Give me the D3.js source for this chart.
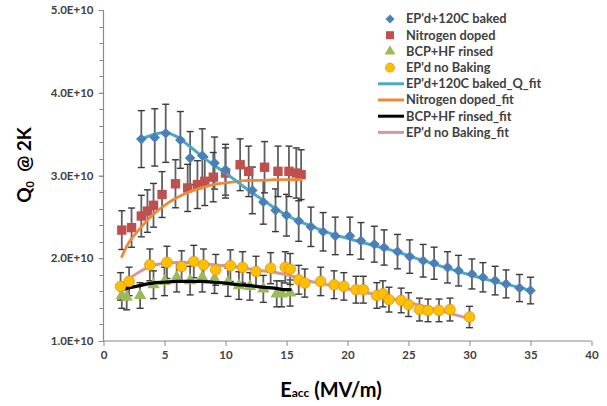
<!DOCTYPE html>
<html><head><meta charset="utf-8">
<script src="https://cdn.jsdelivr.net/npm/d3@7"></script>
<style>
html,body{margin:0;padding:0;background:#fff;}
svg{display:block;font-family:Lato,"Open Sans",sans-serif;}
</style></head>
<body>
<svg id="chart" width="607" height="406"></svg>
<script>
// ---- data (Q0 in units of 1E+10) ----
const xTicks = [0,5,10,15,20,25,30,35,40];
const yTicks = [1,2,3,4,5];
const errorPercent = 10;

const bakedX = [3.1,4.2,5.1,6.3,7.1,8.1,9.1,10.0,12.2,13.1,14.1,15.0,16.0,17.0,18.0,19.0,20.2,21.1,22.2,23.0,24.1,25.1,26.2,27.1,28.2,29.1,30.2,31.1,32.1,33.0,34.1,35.0];
const bakedQ = [3.44,3.46,3.51,3.43,3.21,3.24,3.15,3.07,2.82,2.68,2.58,2.52,2.45,2.38,2.32,2.27,2.27,2.21,2.17,2.13,2.08,2.02,1.97,1.94,1.89,1.85,1.81,1.77,1.73,1.69,1.64,1.61];

const nitroX = [1.5,2.3,3.1,3.6,4.1,4.8,5.9,6.9,7.7,8.3,9.0,10.0,11.2,11.9,13.2,14.3,15.2,15.8,16.2];
const nitroQ = [2.34,2.37,2.51,2.57,2.64,2.77,2.90,2.85,2.89,2.93,2.98,3.03,3.13,3.05,3.10,3.05,3.05,3.03,3.01];

const bcpX = [1.5,1.9,3.0,4.1,5.0,6.0,7.1,8.1,9.1,10.2,11.1,12.0,13.1,14.2,14.6,15.3];
const bcpQ = [1.55,1.53,1.55,1.68,1.72,1.77,1.73,1.77,1.75,1.71,1.67,1.66,1.63,1.57,1.57,1.58];

const noBakeX = [1.4,2.1,3.8,5.2,6.4,7.4,8.2,9.2,10.4,11.4,12.5,13.7,14.9,15.3,16.0,16.5,17.8,18.9,19.7,20.7,21.3,22.4,22.9,23.4,24.4,25.0,25.9,26.6,27.5,28.4,30.0];
const noBakeQ = [1.66,1.72,1.92,1.95,1.90,1.96,1.92,1.86,1.91,1.89,1.84,1.88,1.89,1.87,1.74,1.70,1.72,1.68,1.66,1.62,1.62,1.55,1.57,1.50,1.49,1.44,1.38,1.37,1.37,1.38,1.29];

const bakedFitX = [3.1,4,5,6,7,8,9,10,11,12,13,14,15,16,17,18,19,20,22,24,26,28,30,32,34,35];
const bakedFitQ = [3.44,3.49,3.52,3.47,3.36,3.24,3.13,3.03,2.92,2.81,2.71,2.61,2.52,2.45,2.39,2.33,2.28,2.24,2.16,2.08,1.98,1.89,1.80,1.72,1.65,1.61];

const nitroFitX = [1.5,2,3,4,5,6,7,8,9,10,11,12,13,14,15,16.2];
const nitroFitQ = [2.02,2.17,2.36,2.52,2.64,2.73,2.80,2.85,2.89,2.91,2.93,2.94,2.94,2.95,2.95,2.95];

const bcpFitX = [1.5,2,3,4,5,6,7,8,9,10,11,12,13,14,15,15.3];
const bcpFitQ = [1.62,1.64,1.67,1.70,1.71,1.72,1.72,1.72,1.71,1.70,1.68,1.67,1.65,1.64,1.62,1.62];

const noBakeFitX = [1.4,2,3,4,5,6,7,8,9,10,11,12,13,14,15,16,17,18,19,20,22,24,26,28,30];
const noBakeFitQ = [1.66,1.74,1.84,1.91,1.94,1.95,1.95,1.94,1.92,1.91,1.89,1.87,1.85,1.83,1.80,1.76,1.72,1.69,1.66,1.63,1.57,1.50,1.43,1.35,1.27];

const legendLabels = ["EP'd+120C baked","Nitrogen doped","BCP+HF rinsed","EP'd no Baking",
  "EP'd+120C baked_Q_fit","Nitrogen doped_fit","BCP+HF rinsed_fit","EP'd no Baking_fit"];

// ---- drawing ----
const svg = d3.select("#chart");
const x = d3.scaleLinear().domain([0,40]).range([103.5,591.5]);
const y = d3.scaleLinear().domain([1,5]).range([341,10]);
const zip = (a,b)=>a.map((v,i)=>({x:v,q:b[i]}));

const C = {
  diamond:"#4a7fb8", square:"#c0504d", tri:"#9bbb59", circ:"#ffc000", circStroke:"#e0901a",
  blueLine:"#4aa8c8", orangeLine:"#f0883a", blackLine:"#000", pinkLine:"#d8989a",
  axis:"#8a8a8a", text:"#404040", err:"#3a3a3a"
};

// axes
const xAxis = d3.axisBottom(x).tickValues(xTicks).tickSize(5).tickPadding(5).tickFormat(d3.format("d"));
const gx = svg.append("g").attr("transform","translate(0,341)").call(xAxis);
const yAxis = d3.axisLeft(y).tickValues(yTicks).tickSize(5).tickPadding(5).tickFormat(d=>d.toFixed(1)+"E+10");
const gy = svg.append("g").attr("transform","translate(103.5,0)").call(yAxis);
// minor y ticks
const minor = d3.range(1,5.001,0.2);
svg.append("g").selectAll("line").data(minor).join("line")
  .attr("x1",99.5).attr("x2",103.5).attr("y1",d=>Math.round(y(d))+0.5).attr("y2",d=>Math.round(y(d))+0.5)
  .attr("stroke",C.axis).attr("stroke-width",1);
[gx,gy].forEach(g=>{
  g.select(".domain").attr("stroke",C.axis).attr("stroke-width",1.2);
  g.selectAll(".tick line").attr("stroke",C.axis);
  g.selectAll(".tick text").attr("fill",C.text).attr("font-size",11.5).attr("font-weight","bold").attr("font-family","Lato, sans-serif");
});
gy.select(".domain").attr("d","M103.5,10V341").attr("transform","translate(-103.5,0)");
gx.select(".domain").attr("d","M103.5,0H591.5");

// error bars
function errorBars(data){
  const g = svg.append("g").attr("stroke",C.err).attr("stroke-width",1.4);
  data.forEach(d=>{
    const e = d.q*errorPercent/100;
    const px = x(d.x), y1 = y(d.q+e), y2 = y(d.q-e);
    g.append("line").attr("x1",px).attr("x2",px).attr("y1",y1).attr("y2",y2).attr("stroke","#606060").attr("stroke-width",1.8);
    g.append("line").attr("x1",px-3.5).attr("x2",px+3.5).attr("y1",y1).attr("y2",y1);
    g.append("line").attr("x1",px-3.5).attr("x2",px+3.5).attr("y1",y2).attr("y2",y2);
  });
}
const baked = zip(bakedX,bakedQ), nitro = zip(nitroX,nitroQ), bcp = zip(bcpX,bcpQ), noBake = zip(noBakeX,noBakeQ);
errorBars(baked); errorBars(nitro); errorBars(bcp); errorBars(noBake);

const line = d3.line().x(d=>x(d.x)).y(d=>y(d.q)).curve(d3.curveMonotoneX);
function fit(data,color,w){
  svg.append("path").datum(data).attr("d",line).attr("fill","none").attr("stroke",color)
    .attr("stroke-width",w).attr("stroke-linecap","round");
}
const sym = (type,size)=>d3.symbol().type(type).size(size)();
function markers(data,kind){
  const g = svg.append("g");
  data.forEach(d=>{
    const px=x(d.x), py=y(d.q);
    if(kind==="diamond") g.append("path").attr("d",sym(d3.symbolSquare,56)).attr("transform",`translate(${px},${py}) rotate(45)`).attr("fill",C.diamond);
    if(kind==="square") g.append("path").attr("d",sym(d3.symbolSquare,88)).attr("transform",`translate(${px},${py})`).attr("fill",C.square);
    if(kind==="tri") g.append("path").attr("d",sym(d3.symbolTriangle,68)).attr("transform",`translate(${px},${py})`).attr("fill",C.tri);
    if(kind==="circ") g.append("circle").attr("cx",px).attr("cy",py).attr("r",5.3).attr("fill",C.circ).attr("stroke",C.circStroke).attr("stroke-width",0.8);
  });
}
markers(nitro,"square");
fit(zip(nitroFitX,nitroFitQ),C.orangeLine,2.8);
markers(bcp,"tri");
fit(zip(bcpFitX,bcpFitQ),C.blackLine,3.2);
fit(zip(noBakeFitX,noBakeFitQ),C.pinkLine,3);
markers(noBake,"circ");
fit(zip(bakedFitX,bakedFitQ),C.blueLine,3);
markers(baked,"diamond");

// axis titles
const yt = svg.append("text").attr("transform","translate(31,165) rotate(-90)").attr("text-anchor","middle")
  .attr("font-size",19).attr("font-weight","bold").attr("fill","#000").attr("font-family","Lato, sans-serif");
yt.append("tspan").text("Q");
yt.append("tspan").text("0").attr("font-size",11).attr("dy",3);
yt.append("tspan").text("  @ 2K").attr("dy",-3).style("white-space","pre");
const xt = svg.append("text").attr("x",331).attr("y",397).attr("text-anchor","middle")
  .attr("font-size",20).attr("font-weight","bold").attr("fill","#000").attr("font-family","Lato, sans-serif");
xt.append("tspan").text("E");
xt.append("tspan").text("acc").attr("font-size",12);
xt.append("tspan").text(" (MV/m)").attr("font-size",20);

// legend
const lg = svg.append("g").attr("font-family","Lato, sans-serif").attr("font-size",12.8).attr("font-weight","bold").attr("fill",C.text);
const rowY = i=>19+i*16.2;
legendLabels.forEach((t,i)=>{
  lg.append("text").attr("x",406).attr("y",rowY(i)).attr("dy","0.35em").text(t);
});
lg.append("path").attr("d",sym(d3.symbolSquare,40)).attr("transform",`translate(390,${rowY(0)}) rotate(45)`).attr("fill",C.diamond);
lg.append("path").attr("d",sym(d3.symbolSquare,64)).attr("transform",`translate(390,${rowY(1)})`).attr("fill",C.square);
lg.append("path").attr("d",sym(d3.symbolTriangle,50)).attr("transform",`translate(390,${rowY(2)})`).attr("fill",C.tri);
lg.append("circle").attr("cx",390).attr("cy",rowY(3)).attr("r",4.5).attr("fill",C.circ).attr("stroke",C.circStroke).attr("stroke-width",0.8);
[C.blueLine,C.orangeLine,C.blackLine,C.pinkLine].forEach((c,i)=>{
  lg.append("line").attr("x1",378).attr("x2",404).attr("y1",rowY(4+i)).attr("y2",rowY(4+i)).attr("stroke",c).attr("stroke-width",3);
});
</script>
</body></html>
